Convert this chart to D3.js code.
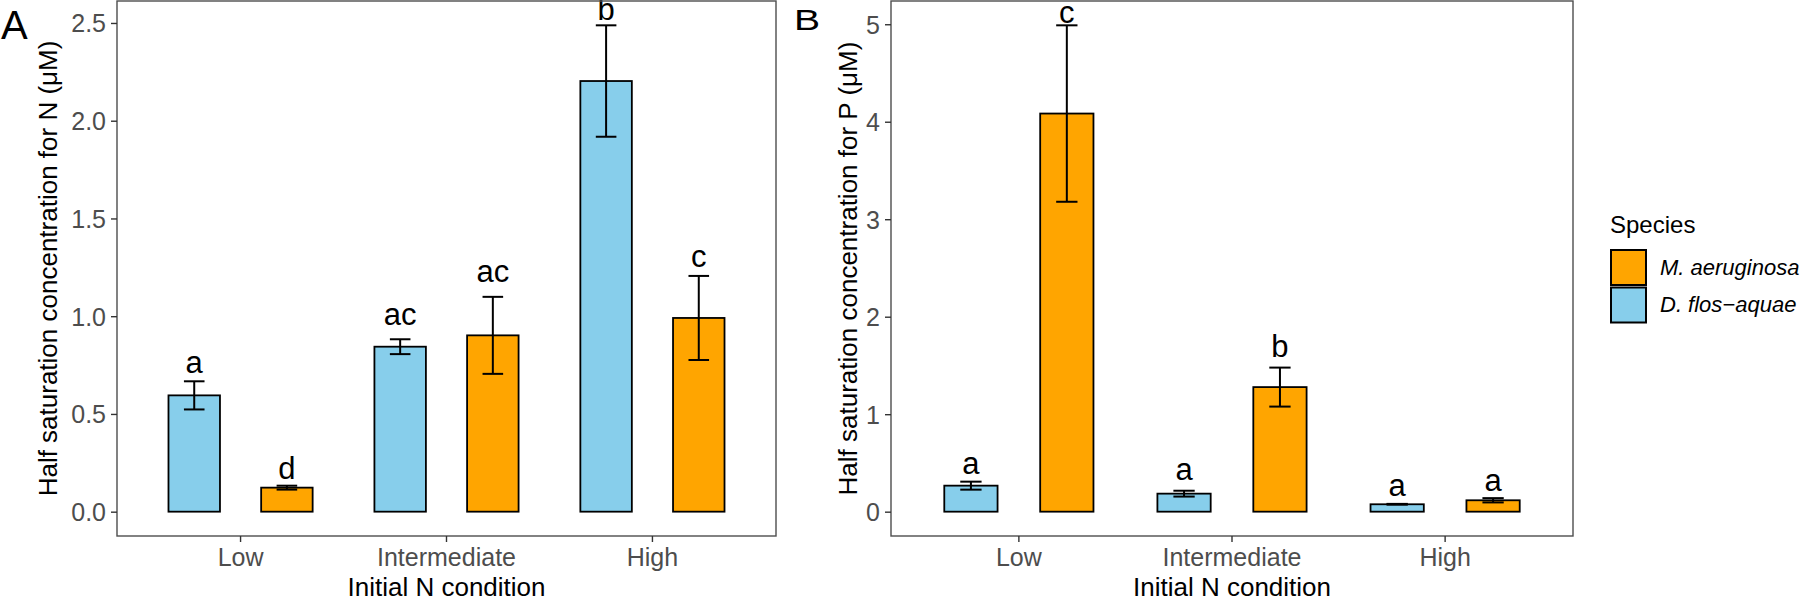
<!DOCTYPE html>
<html>
<head>
<meta charset="utf-8">
<script src="https://cdn.jsdelivr.net/npm/d3@7"></script>
<style>
  body { margin: 0; background: #fff; }
  svg { display: block; font-family: "Liberation Sans", Arial, sans-serif; }
</style>
</head>
<body>
<svg id="chart" width="1800" height="598"></svg>
<script>
const conditions = ['Low', 'Intermediate', 'High']
const speciesKeys = ['dflos', 'maer']
const speciesLabels = {maer: 'M. aeruginosa', dflos: 'D. flos\u2212aquae'}
const speciesColors = {maer: '#FFA500', dflos: '#87CEEB'}

// panel A: half saturation for N
const halfSatN_dflos = [0.595, 0.844, 2.203]
const halfSatN_dflosSE = [0.072, 0.038, 0.285]
const halfSatN_maer = [0.123, 0.902, 0.991]
const halfSatN_maerSE = [0.01, 0.197, 0.215]
const lettersN_dflos = ['a', 'ac', 'b']
const lettersN_maer = ['d', 'ac', 'c']
// height (in data units) where each letter sits
const letterYN_dflos = [0.707, 0.954, 2.517]
const letterYN_maer = [0.166, 1.173, 1.25]
const ticksN = [0, 0.5, 1, 1.5, 2, 2.5]

// panel B: half saturation for P
const halfSatP_dflos = [0.267, 0.185, 0.076]
const halfSatP_dflosSE = [0.041, 0.03, 0.004]
const halfSatP_maer = [4.084, 1.278, 0.117]
const halfSatP_maerSE = [0.905, 0.2, 0.022]
const lettersP_dflos = ['a', 'a', 'a']
const lettersP_maer = ['c', 'b', 'a']
const letterYP_dflos = [0.387, 0.326, 0.161]
const letterYP_maer = [5.012, 1.587, 0.216]
const ticksP = [0, 1, 2, 3, 4, 5]


const svg = d3.select('#chart')

const rows = (mean, se, letters, ly, sp) =>
    conditions.map((c, i) => ({cond: c, sp, mean: mean[i], se: se[i], letter: letters[i], ly: ly[i]}))


const drawPanel = ({left, right, top, bottom, data, ticks, fmt, yTitle, titleX}) => {
    const g = svg.append('g')

    const maxUp = d3.max(data, d => d.mean + d.se)
    const pad = maxUp * 0.05
    const y = d3.scaleLinear()
        .domain([-pad, maxUp + pad])
        .range([bottom, top])

    const x = d3.scaleBand()
        .domain(conditions)
        .range([left, right])
        .paddingInner(0)
        .paddingOuter(0.1)
    const step = x.step()
    const inner = d3.scaleBand()
        .domain(speciesKeys)
        .range([-0.45 * step, 0.45 * step])
    const barW = 0.25 * step
    const capW = 0.1 * step
    const cx = d => x(d.cond) + x.bandwidth() / 2 + inner(d.sp) + inner.bandwidth() / 2

    // bars
    g.append('g').selectAll('rect')
        .data(data)
        .join('rect')
        .attr('x', d => cx(d) - barW / 2)
        .attr('width', barW)
        .attr('y', d => y(d.mean))
        .attr('height', d => y(0) - y(d.mean))
        .attr('fill', d => speciesColors[d.sp])
        .attr('stroke', '#000')
        .attr('stroke-width', 1.8)

    // error bars
    const eb = g.append('g')
        .attr('stroke', '#000')
        .attr('stroke-width', 2)
        .selectAll('g')
        .data(data)
        .join('g')
    eb.append('line')
        .attr('x1', cx).attr('x2', cx)
        .attr('y1', d => y(d.mean - d.se))
        .attr('y2', d => y(d.mean + d.se))
    eb.append('line')
        .attr('x1', d => cx(d) - capW / 2).attr('x2', d => cx(d) + capW / 2)
        .attr('y1', d => y(d.mean + d.se)).attr('y2', d => y(d.mean + d.se))
    eb.append('line')
        .attr('x1', d => cx(d) - capW / 2).attr('x2', d => cx(d) + capW / 2)
        .attr('y1', d => y(d.mean - d.se)).attr('y2', d => y(d.mean - d.se))

    // letters
    g.append('g').selectAll('text')
        .data(data)
        .join('text')
        .attr('x', cx)
        .attr('y', d => y(d.ly))
        .attr('text-anchor', 'middle')
        .attr('font-size', 31)
        .attr('fill', '#000')
        .text(d => d.letter)

    // panel border
    g.append('rect')
        .attr('x', left).attr('y', top)
        .attr('width', right - left).attr('height', bottom - top)
        .attr('fill', 'none')
        .attr('stroke', '#4D4D4D')
        .attr('stroke-width', 1.4)

    // axes
    const xAxis = g.append('g')
        .attr('transform', `translate(0,${bottom})`)
        .call(d3.axisBottom(x).tickSize(6).tickSizeOuter(0))
    xAxis.select('.domain').remove()
    xAxis.selectAll('line').attr('stroke', '#333').attr('stroke-width', 1.4)
    xAxis.selectAll('text')
        .attr('y', 30).attr('dy', null)
        .attr('font-size', 25).attr('fill', '#4D4D4D')
        .attr('font-family', null)

    const yAxis = g.append('g')
        .attr('transform', `translate(${left},0)`)
        .call(d3.axisLeft(y).tickValues(ticks).tickFormat(fmt).tickSize(6).tickPadding(5))
    yAxis.select('.domain').remove()
    yAxis.selectAll('line').attr('stroke', '#333').attr('stroke-width', 1.4)
    yAxis.selectAll('text')
        .attr('dy', '0.36em')
        .attr('font-size', 25).attr('fill', '#4D4D4D')
        .attr('font-family', null)

    // titles
    g.append('text')
        .attr('x', (left + right) / 2)
        .attr('y', 596)
        .attr('text-anchor', 'middle')
        .attr('font-size', 26)
        .text('Initial N condition')

    g.append('text')
        .attr('transform', `translate(${titleX},${(top + bottom) / 2}) rotate(-90)`)
        .attr('text-anchor', 'middle')
        .attr('font-size', 26)
        .text(yTitle)
}


drawPanel({
    left: 117, right: 776, top: 1, bottom: 536,
    data: [...rows(halfSatN_dflos, halfSatN_dflosSE, lettersN_dflos, letterYN_dflos, 'dflos'),
        ...rows(halfSatN_maer, halfSatN_maerSE, lettersN_maer, letterYN_maer, 'maer')],
    ticks: ticksN,
    fmt: d3.format('.1f'),
    yTitle: 'Half saturation concentration for N (\u03BCM)',
    titleX: 57
})

drawPanel({
    left: 891, right: 1573, top: 1, bottom: 536,
    data: [...rows(halfSatP_dflos, halfSatP_dflosSE, lettersP_dflos, letterYP_dflos, 'dflos'),
        ...rows(halfSatP_maer, halfSatP_maerSE, lettersP_maer, letterYP_maer, 'maer')],
    ticks: ticksP,
    fmt: d3.format('d'),
    yTitle: 'Half saturation concentration for P (\u03BCM)',
    titleX: 857
})

// panel tags
svg.append('text')
    .attr('x', 1).attr('y', 39)
    .attr('font-size', 40)
    .text('A')

svg.append('text')
    .attr('transform', 'translate(794,30) scale(1.35,1)')
    .attr('font-size', 29)
    .text('B')

// legend
const legend = svg.append('g')
    .attr('transform', 'translate(1610,0)')

legend.append('text')
    .attr('x', 0).attr('y', 233)
    .attr('font-size', 24)
    .text('Species')

const legendOrder = ['maer', 'dflos']
const ly = d3.scaleBand()
    .domain(legendOrder)
    .range([249, 324])

const item = legend.selectAll('.item')
    .data(legendOrder)
    .join('g')
    .attr('class', 'item')
    .attr('transform', k => `translate(0,${ly(k)})`)

item.append('rect')
    .attr('x', 1).attr('y', 1)
    .attr('width', 35).attr('height', ly.bandwidth() - 2.5)
    .attr('fill', k => speciesColors[k])
    .attr('stroke', '#000')
    .attr('stroke-width', 2)

item.append('text')
    .attr('x', 50)
    .attr('y', 25.5)
    .attr('font-size', 22)
    .attr('font-style', 'italic')
    .text(k => speciesLabels[k])
</script>
</body>
</html>
